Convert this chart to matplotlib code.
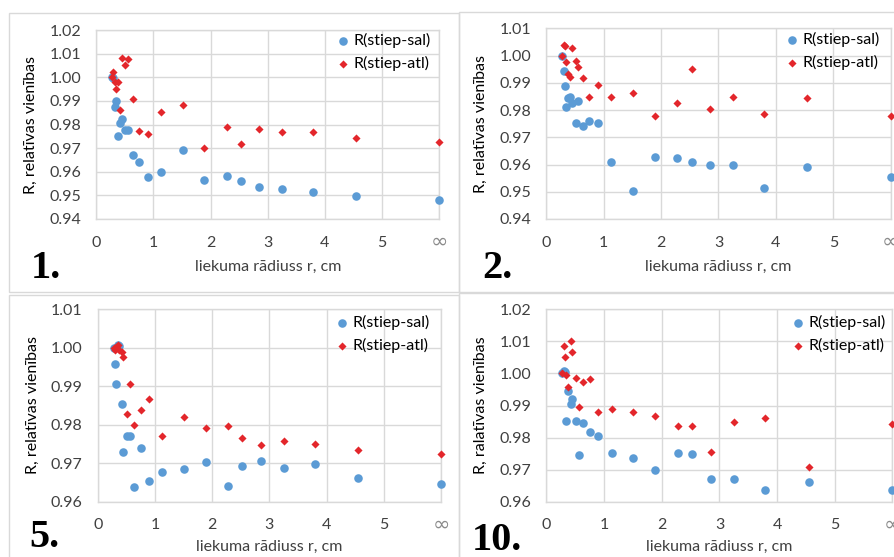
import matplotlib
matplotlib.use("Agg")
import matplotlib.pyplot as plt
from matplotlib.patches import Rectangle
import matplotlib.transforms as mtransforms

plt.rcParams['font.family'] = ['Lato', 'DejaVu Sans']

# ---- data ----
r_vals = [0.28, 0.30, 0.32, 0.35, 0.38, 0.42, 0.45, 0.51, 0.56, 0.64, 0.75,
          0.90, 1.13, 1.51, 1.89, 2.28, 2.53, 2.85, 3.25, 3.79, 4.55, 6.0]
x_tick_vals = [0, 1, 2, 3, 4, 5, 6]
x_tick_labels = ['0', '1', '2', '3', '4', '5', '∞']

sal_1 = [1.000, 0.9995, 0.9873, 0.9901, 0.9750, 0.9805, 0.9823, 0.9778, 0.9778, 0.9671, 0.9640,
         0.9577, 0.9600, 0.9691, 0.9564, 0.9581, 0.9561, 0.9537, 0.9526, 0.9513, 0.9498, 0.9482]
atl_1 = [1.000, 1.0022, 0.9981, 0.9952, 0.9979, 0.9861, 1.0083, 1.0051, 1.0079, 0.9908, 0.9771,
         0.9759, 0.9853, 0.9881, 0.9700, 0.9790, 0.9719, 0.9782, 0.9767, 0.9767, 0.9743, 0.9727]

sal_2 = [1.000, 0.9942, 0.9888, 0.9812, 0.9843, 0.9847, 0.9827, 0.9751, 0.9834, 0.9741, 0.9758,
         0.9751, 0.9610, 0.9501, 0.9629, 0.9624, 0.9608, 0.9597, 0.9597, 0.9515, 0.9591, 0.9553]
atl_2 = [1.000, 1.0040, 1.0036, 0.9977, 0.9931, 0.9922, 1.0027, 0.9981, 0.9957, 0.9916, 0.9848,
         0.9893, 0.9848, 0.9862, 0.9777, 0.9827, 0.9949, 0.9803, 0.9847, 0.9786, 0.9843, 0.9777]

sal_5 = [1.000, 0.9959, 0.9905, 1.0007, 1.0004, 0.9854, 0.9728, 0.9770, 0.9770, 0.9638, 0.9740,
         0.9653, 0.9677, 0.9684, 0.9703, 0.9641, 0.9692, 0.9706, 0.9688, 0.9699, 0.9662, 0.9645]
atl_5 = [1.000, 0.9994, 1.0003, 1.0007, 0.9994, 0.9990, 0.9975, 0.9827, 0.9907, 0.9800, 0.9838,
         0.9866, 0.9770, 0.9820, 0.9791, 0.9798, 0.9766, 0.9747, 0.9759, 0.9749, 0.9735, 0.9724]

sal_10 = [1.000, 1.0008, 1.0005, 0.9853, 0.9946, 0.9905, 0.9920, 0.9853, 0.9745, 0.9846, 0.9817,
          0.9806, 0.9753, 0.9736, 0.9698, 0.9753, 0.9750, 0.9672, 0.9672, 0.9635, 0.9660, 0.9638]
atl_10 = [1.000, 1.0086, 1.0050, 0.9995, 0.9957, 1.0100, 1.0068, 0.9987, 0.9896, 0.9972, 0.9983,
          0.9879, 0.9890, 0.9879, 0.9867, 0.9835, 0.9835, 0.9754, 0.9850, 0.9862, 0.9707, 0.9841]

series_labels = ['R(stiep-sal)', 'R(stiep-atl)']
ylabel_std = 'R, relatīvas vienības'
ylabel_10 = 'R, ralatīvas vienības'
xlabel = 'liekuma rādiuss r, cm'

W, H = 895, 557
fig = plt.figure(figsize=(W / 100, H / 100), dpi=100)
fig.patch.set_facecolor('white')

# panel frames
for (l, t, r, b) in [(9, 13, 459, 292), (459, 12, 900, 292), (9, 295, 459, 560), (459, 293, 900, 560)]:
    fig.patches.append(Rectangle((l / W, 1 - b / H), (r - l) / W, (b - t) / H,
                                 transform=fig.transFigure, fill=False,
                                 edgecolor='#d9d9d9', linewidth=1.0))

BLUE = '#5B9BD5'
RED = '#E3262B'
GRID = '#d9d9d9'
TXT = '#404040'


def make_panel(box, ylim, yticks, sal, atl, ylabel, number, num_pos, leg_pos, xlab_off):
    l, r, t, b = box
    hgt = b - t
    ax = fig.add_axes([l / W, 1 - b / H, (r - l) / W, hgt / H])
    ax.scatter(r_vals, sal, s=38, color=BLUE, marker='o', linewidths=0,
               label=series_labels[0], clip_on=False, zorder=3)
    ax.scatter(r_vals, atl, s=17, color=RED, marker='D', linewidths=0,
               label=series_labels[1], clip_on=False, zorder=4)
    ax.set_xlim(0, 6)
    ax.set_ylim(*ylim)
    ax.set_xticks(x_tick_vals)
    ax.set_xticklabels(x_tick_labels)
    ax.set_yticks(yticks)
    ax.set_yticklabels([f'{v:.2f}' for v in yticks])
    ax.grid(True, color=GRID, linewidth=1.0)
    ax.set_axisbelow(True)
    for s in ax.spines.values():
        s.set_color(GRID)
        s.set_linewidth(1.0)
    ax.tick_params(length=0, labelsize=11.5, labelcolor=TXT)
    ax.tick_params(axis='x', pad=12)
    ax.tick_params(axis='y', pad=11)
    inf_lbl = ax.get_xticklabels()[-1]
    inf_lbl.set_color('#8c8c8c')
    inf_lbl.set_fontfamily(['DejaVu Sans'])
    inf_lbl.set_fontsize(15)
    inf_lbl.set_transform(inf_lbl.get_transform() +
                          mtransforms.ScaledTranslation(0, 3 / 72, fig.dpi_scale_trans))
    ax.set_ylabel(ylabel, fontsize=11.5, color='black', labelpad=8)
    ax.set_xlabel(xlabel, fontsize=11.5, color=TXT, va='center')
    ax.xaxis.set_label_coords(0.5, -xlab_off / hgt)
    mx, my = leg_pos
    ax.legend(loc='upper left', bbox_to_anchor=((mx - 6) / W, 1 - (my - 10) / H),
              bbox_transform=fig.transFigure, frameon=False, fontsize=11.5,
              borderpad=0, borderaxespad=0, handlelength=0.8, handletextpad=0.25,
              labelspacing=0.5, scatterpoints=1, labelcolor='black')
    fig.text(num_pos[0] / W, 1 - num_pos[1] / H, number, family=['Liberation Serif'],
             fontweight='bold', fontsize=29, ha='left', va='baseline')
    return ax


make_panel((96.3, 439.3, 30, 219), (0.94, 1.02), [0.94 + 0.01 * i for i in range(9)],
           sal_1, atl_1, ylabel_std, '1.', (31, 278), (343, 43), 48)
make_panel((546.3, 890.7, 28.3, 219), (0.94, 1.01), [0.94 + 0.01 * i for i in range(8)],
           sal_2, atl_2, ylabel_std, '2.', (482, 278), (792, 42), 48)
make_panel((97.7, 441, 309.3, 501.7), (0.96, 1.01), [0.96 + 0.01 * i for i in range(6)],
           sal_5, atl_5, ylabel_std, '5.', (29, 547), (342, 325), 45)
make_panel((546.3, 892.5, 309.3, 501.7), (0.96, 1.02), [0.96 + 0.01 * i for i in range(7)],
           sal_10, atl_10, ylabel_10, '10.', (472, 550), (798, 325), 45)

fig.savefig('out.png', dpi=100, facecolor='white')
